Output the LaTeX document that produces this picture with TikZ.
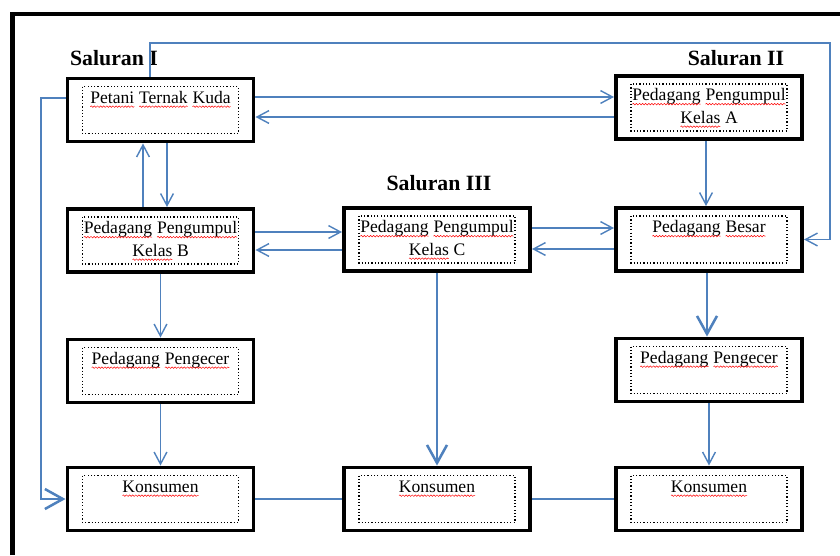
\documentclass[tikz,border=0pt]{standalone}
\usepackage{fontspec}
\setmainfont{Liberation Serif}
\usetikzlibrary{arrows.meta,decorations.pathmorphing}
\definecolor{garisbiru}{RGB}{79,129,189}
% garis bergelombang merah di bawah kata
\newcommand\salah[1]{\tikz[baseline=(kata.base)]{%
    \node[inner sep=0pt, outer sep=0pt, minimum width=0pt, minimum height=0pt, draw=none,
        path picture={}, execute at begin node={}, execute at end node={}] (kata) {#1};
    \draw[red, line width=0.35pt, decorate, decoration={snake, amplitude=0.55pt, segment length=2.2pt}]
        ([yshift=-2.4pt]kata.base west) -- ([yshift=-2.4pt]kata.base east);}}

\begin{document}
\begin{tikzpicture}[x=0.025cm, y=-0.025cm,
    kotak/.style={draw, line width=2.8pt, minimum width=4.65cm, minimum height=1.575cm,
        inner sep=0pt, align=center, font=\fontsize{12.5}{16}\selectfont,
        execute at begin node=\strut, execute at end node=\strut,
        path picture={\draw[line width=0.85pt, dash pattern=on 0.85pt off 1.5pt]
            ([shift={(0.375cm,-0.2cm)}]path picture bounding box.north west) rectangle
            ([shift={(-0.375cm,0.2cm)}]path picture bounding box.south east);}},
    judul/.style={font=\fontsize{15.5}{18}\selectfont\bfseries},
    panah/.style={draw=garisbiru, line width=1pt, -{Straight Barb[length=3mm, width=3.2mm]}},
    panahtebal/.style={draw=garisbiru, line width=1.8pt, -{Straight Barb[length=4.5mm, width=5mm]}},
    garis/.style={draw=garisbiru, line width=1pt}]
    \useasboundingbox (0,0) rectangle (840,555);

    % Bingkai
    \draw[line width=3pt] (12.5,555) -- (12.5,14) -- (840,14);

    % Judul saluran
    \node[judul] (s1) at (114,58) {Saluran I};
    \node[judul] (s2) at (736,58) {Saluran II};
    \node[judul] (s3) at (439,183) {Saluran III};

    % Kotak-kotak
    \node[kotak] (pa)  at (160.5,110)   {\salah{Petani} \salah{Ternak} \salah{Kuda}\\};
    \node[kotak] (pka) at (709,107.5)   {\salah{Pedagang} \salah{Pengumpul}\\\salah{Kelas} A};
    \node[kotak] (pkb) at (160.5,240.5) {\salah{Pedagang} \salah{Pengumpul}\\\salah{Kelas} B};
    \node[kotak] (pkc) at (437,239.5)   {\salah{Pedagang} \salah{Pengumpul}\\\salah{Kelas} C};
    \node[kotak] (pb)  at (709,239.5)   {\salah{Pedagang} \salah{Besar}\\};
    \node[kotak] (pgl) at (160.5,371)   {\salah{Pedagang} \salah{Pengecer}\\};
    \node[kotak] (pgr) at (709,370)     {\salah{Pedagang} \salah{Pengecer}\\};
    \node[kotak] (kl)  at (160.5,499)   {\salah{Konsumen}\\};
    \node[kotak] (km)  at (437,499)     {\salah{Konsumen}\\};
    \node[kotak] (kr)  at (709,499)     {\salah{Konsumen}\\};

    % Saluran I
    \draw[panah] (150,0 |- pa.north) -- (150,43) -- (830,43) |- (pb.east);
    \draw[panah] (pa.east |- 0,97) -- (pka.west |- 0,97);
    \draw[panah] (pka.west |- 0,117) -- (pa.east |- 0,117);
    \draw[panah] (706,0 |- pka.south) -- (706,0 |- pb.north);
    \draw[panah] (143,0 |- pkb.north) -- (143,0 |- pa.south);
    \draw[panah] (167,0 |- pa.south) -- (167,0 |- pkb.north);
    \draw[draw=garisbiru, line width=1pt, -{Straight Barb[length=4.5mm, width=5mm, line width=1.8pt]}]
        (pa.west |- 0,98) -- (41,98) |- (kl.west);

    % Antar pedagang
    \draw[panah] (pkb.east |- 0,232) -- (pkc.west |- 0,232);
    \draw[panah] (pkc.west |- 0,250) -- (pkb.east |- 0,250);
    \draw[panah] (pkc.east |- 0,228) -- (pb.west |- 0,228);
    \draw[panah] (pb.west |- 0,249) -- (pkc.east |- 0,249);

    % Ke pengecer dan konsumen
    \draw[panah] (pkb.south) -- (pgl.north);
    \draw[panah] (pgl.south) -- (kl.north);
    \draw[panahtebal] (pkc.south) -- (km.north);
    \draw[panahtebal] (707,0 |- pb.south) -- (707,0 |- pgr.north);
    \draw[panah] (pgr.south) -- (kr.north);

    % Garis konsumen
    \draw[garis] (kl.east) -- (km.west);
    \draw[garis] (km.east) -- (kr.west);

\end{tikzpicture}
\end{document}
